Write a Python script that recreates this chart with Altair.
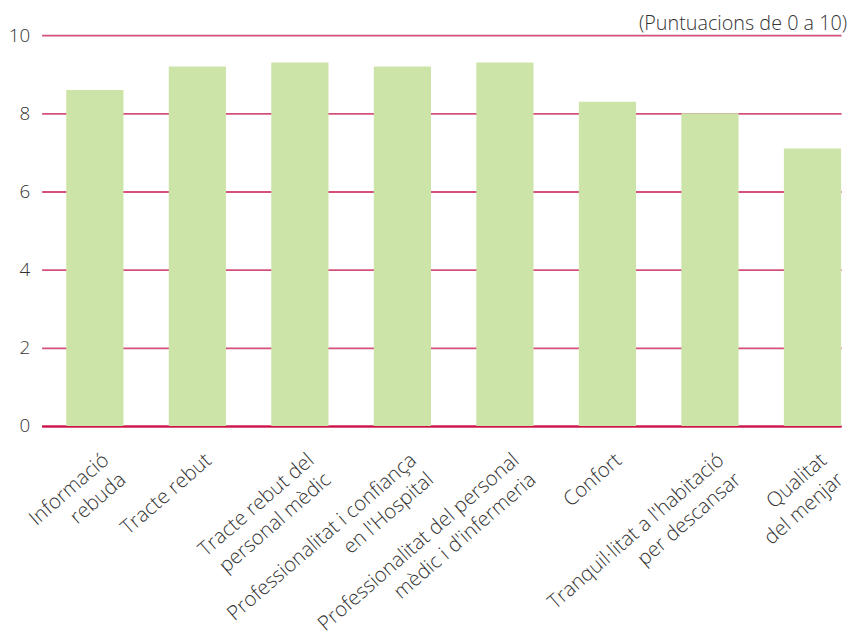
import altair as alt
import pandas as pd

categories = [
    "Informació|rebuda",
    "Tracte rebut",
    "Tracte rebut del|personal mèdic",
    "Professionalitat i confiança|en l'Hospital",
    "Professionalitat del personal|mèdic i d'infermeria",
    "Confort",
    "Tranquil·litat a l'habitació|per descansar",
    "Qualitat|del menjar",
]
values = [8.6, 9.2, 9.3, 9.2, 9.3, 8.3, 8.0, 7.1]
y_ticks = [0, 2, 4, 6, 8, 10]

df = pd.DataFrame({"cat": categories, "val": values})

FONT = "Open Sans"
TXT = "#333333"

chart = (
    alt.Chart(df)
    .mark_bar(color="#cde4a8")
    .encode(
        x=alt.X(
            "cat:N",
            sort=categories,
            title=None,
            scale=alt.Scale(paddingInner=0.442, paddingOuter=0.12, align=1),
            axis=alt.Axis(
                labelExpr="split(datum.label, '|')",
                labelAngle=-41,
                labelAlign="right",
                labelBaseline="top",
                labelFontSize=20.5,
                labelLineHeight=26,
                labelColor=TXT,
                labelFont=FONT,
                labelFontWeight=300,
                labelPadding=24,
                labelOffset=5,
                labelLimit=500,
                ticks=False,
                domainColor="#cc1144",
                domainWidth=2,
                grid=False,
            ),
        ),
        y=alt.Y(
            "val:Q",
            title=None,
            scale=alt.Scale(domain=[0, 10], nice=False),
            axis=alt.Axis(
                values=y_ticks,
                labelFontSize=19,
                labelColor=TXT,
                labelFont=FONT,
                labelFontWeight=300,
                labelPadding=12,
                ticks=False,
                domain=False,
                gridColor="#d6507a",
                gridWidth=1.8,
            ),
        ),
    )
    .properties(
        width=808,
        height=395,
        padding={"left": 0, "top": 3, "right": 0, "bottom": 0},
        title=alt.TitleParams(
            "(Puntuacions de 0 a 10)",
            anchor="end",
            fontSize=20,
            font=FONT,
            fontWeight=300,
            color=TXT,
            offset=-8,
        ),
    )
    .configure_view(stroke=None)
)

chart.save("out.html", embed_options={"renderer": "svg", "actions": False})
